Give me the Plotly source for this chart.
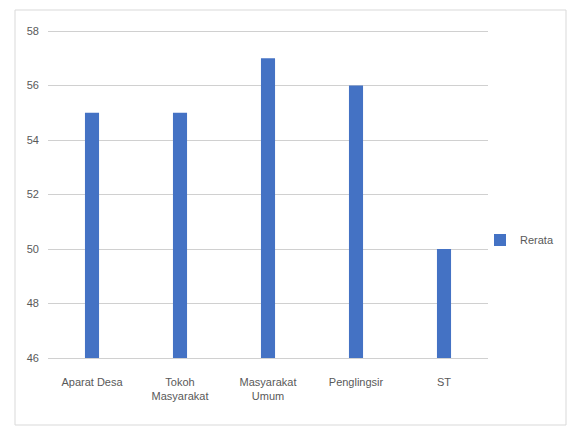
import plotly.graph_objects as go

# Mean score per respondent group
categories = ["Aparat Desa", "Tokoh<br>Masyarakat", "Masyarakat<br>Umum", "Penglingsir", "ST"]
rerata = [55, 55, 57, 56, 50]
y_ticks = [46, 48, 50, 52, 54, 56, 58]
axis_floor = y_ticks[0]

FONT = "Liberation Sans Narrow, Arial Narrow, Liberation Sans, Arial, sans-serif"
GREY = "#595959"

# plot area in pixels: x 48..488, y 28..361 (46..58 sits at 358..31)
L, R, T, B = 48, 79, 28, 87
W, H = 567, 448
pw, ph = W - L - R, H - T - B

def px_x(x):
    return (x - L) / pw

def px_y(y):
    return (H - B - y) / ph

# bars start at the axis floor and end at each group's mean
fig = go.Figure(
    go.Bar(
        x=categories,
        y=[v - axis_floor for v in rerata],
        base=axis_floor,
        customdata=rerata,
        hovertemplate="%{x}: %{customdata}<extra></extra>",
        name="Rerata",
        marker=dict(color="#4472C4", line=dict(width=0)),
        showlegend=True,
    )
)

fig.update_layout(
    width=W,
    height=H,
    margin=dict(l=L, r=R, t=T, b=B, autoexpand=False),
    paper_bgcolor="white",
    plot_bgcolor="white",
    bargap=0.84,
    font=dict(family=FONT, size=11, color=GREY),
    showlegend=True,
    legend=dict(
        x=px_x(480), y=px_y(240), xanchor="left", yanchor="middle",
        font=dict(family=FONT, size=11, color=GREY),
        bgcolor="rgba(0,0,0,0)", itemwidth=30,
    ),
    xaxis=dict(
        showgrid=False, showline=False, zeroline=False, ticks="",
        tickfont=dict(family=FONT, size=11, color=GREY),
        ticklabelstandoff=13,
    ),
    yaxis=dict(
        range=[45.89, 58.11], tickvals=y_ticks, ticktext=[str(v) for v in y_ticks],
        showgrid=True, gridcolor="#D0D0D0", gridwidth=1,
        zeroline=False, showline=False, ticks="",
        tickfont=dict(family=FONT, size=11, color=GREY),
        ticklabelstandoff=8,
    ),
    shapes=[
        dict(
            type="rect", xref="paper", yref="paper",
            x0=px_x(15), x1=px_x(566), y0=px_y(425), y1=px_y(10),
            line=dict(color="#D9D9D9", width=1), fillcolor="rgba(0,0,0,0)",
            layer="below",
        )
    ],
)

fig.write_html("out.html")
